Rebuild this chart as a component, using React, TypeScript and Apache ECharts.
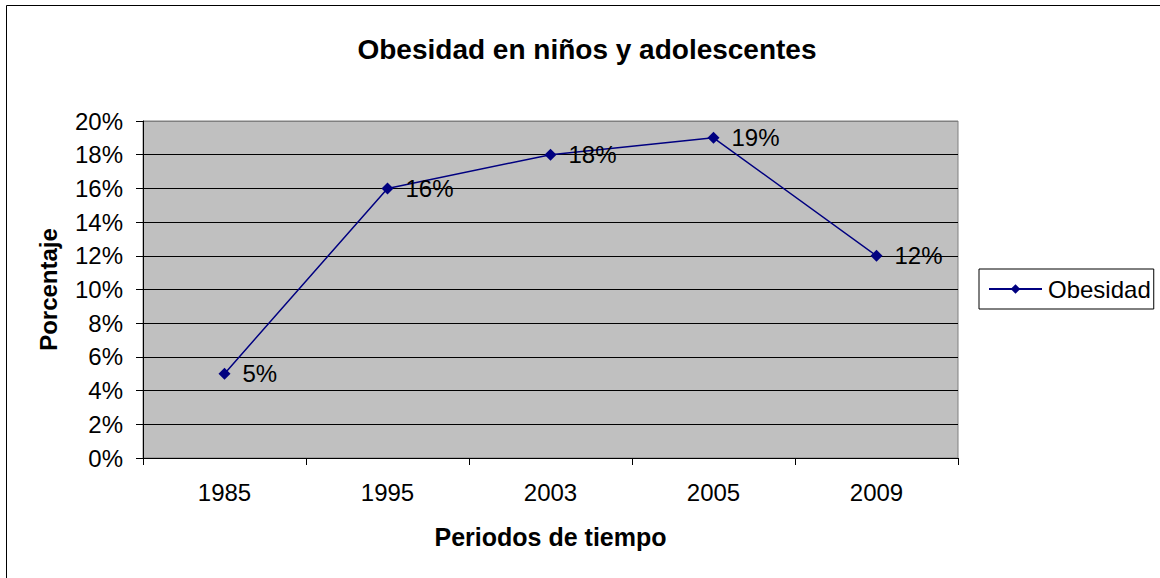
import React, { useEffect, useRef } from "react";
import * as echarts from "echarts";

const categories = ["1985", "1995", "2003", "2005", "2009"];
const obesidad = [5, 16, 18, 19, 12];
const seriesName = "Obesidad";
const titleText = "Obesidad en niños y adolescentes";
const xName = "Periodos de tiempo";
const yName = "Porcentaje";

export default function App() {
  const ref = useRef<HTMLDivElement>(null);
  useEffect(() => {
    const chart = echarts.init(ref.current!, null, { renderer: "svg" });
    const font = "Arial, 'Liberation Sans', sans-serif";
    const gridLineColors = [
      "#000", "#000", "#000", "#000", "#000", "#000",
      "#000", "#000", "#000", "#000", "#808080",
    ];
    chart.setOption({
      animation: false,
      backgroundColor: "#ffffff",
      title: {
        text: titleText,
        left: 582,
        top: 30,
        textAlign: "center",
        textStyle: { fontFamily: font, fontSize: 28, fontWeight: "bold", color: "#000" },
      },
      legend: {
        data: [seriesName],
        left: 979,
        top: 269,
        padding: [8, 3, 8, 9],
        borderColor: "#000",
        borderWidth: 1,
        itemWidth: 53,
        itemHeight: 12,
        itemGap: 4,
        textStyle: { fontFamily: font, fontSize: 24, color: "#000", padding: [0, 0, 0, 1] },
      },
      graphic: [
        {
          type: "rect",
          shape: { x: 6.5, y: 5.5, width: 1170, height: 590 },
          style: { fill: "none", stroke: "#000", lineWidth: 1 },
          silent: true,
        },
      ],
      grid: {
        left: 143,
        right: 202,
        top: 121,
        bottom: 120,
        show: true,
        backgroundColor: "#C0C0C0",
        borderColor: "#808080",
        borderWidth: 1,
      },
      xAxis: {
        type: "category",
        data: categories,
        boundaryGap: true,
        name: xName,
        nameLocation: "middle",
        nameGap: 66,
        nameTextStyle: { fontFamily: font, fontSize: 25, fontWeight: "bold", color: "#000" },
        axisLine: { lineStyle: { color: "#000", width: 1 } },
        axisTick: { show: true, length: 7, alignWithLabel: false, lineStyle: { color: "#000" } },
        axisLabel: { fontFamily: font, fontSize: 24, color: "#000", margin: 22 },
        splitLine: { show: false },
      },
      yAxis: {
        type: "value",
        min: 0,
        max: 20,
        interval: 2,
        name: yName,
        nameLocation: "middle",
        nameGap: 83,
        nameRotate: 90,
        nameTextStyle: { fontFamily: font, fontSize: 24, fontWeight: "bold", color: "#000" },
        axisLine: { show: true, lineStyle: { color: "#000", width: 1 } },
        axisTick: { show: true, length: 7, inside: false, lineStyle: { color: "#000" } },
        axisLabel: { fontFamily: font, fontSize: 24, color: "#000", margin: 20, formatter: "{value}%" },
        splitLine: { show: true, lineStyle: { color: gridLineColors, width: 1 } },
      },
      series: [
        {
          name: seriesName,
          type: "line",
          data: obesidad,
          color: "#000080",
          lineStyle: { color: "#000080", width: 1.5 },
          itemStyle: { color: "#000080" },
          symbol: "diamond",
          symbolSize: 12,
          label: {
            show: true,
            position: "right",
            distance: 12,
            formatter: "{c}%",
            fontFamily: font,
            fontSize: 24,
            color: "#000",
          },
        },
      ],
    });
    return () => chart.dispose();
  }, []);
  return (
    <div
      ref={ref}
      style={{ position: "absolute", left: 0, top: 0, width: 1160, height: 578 }}
    />
  );
}
